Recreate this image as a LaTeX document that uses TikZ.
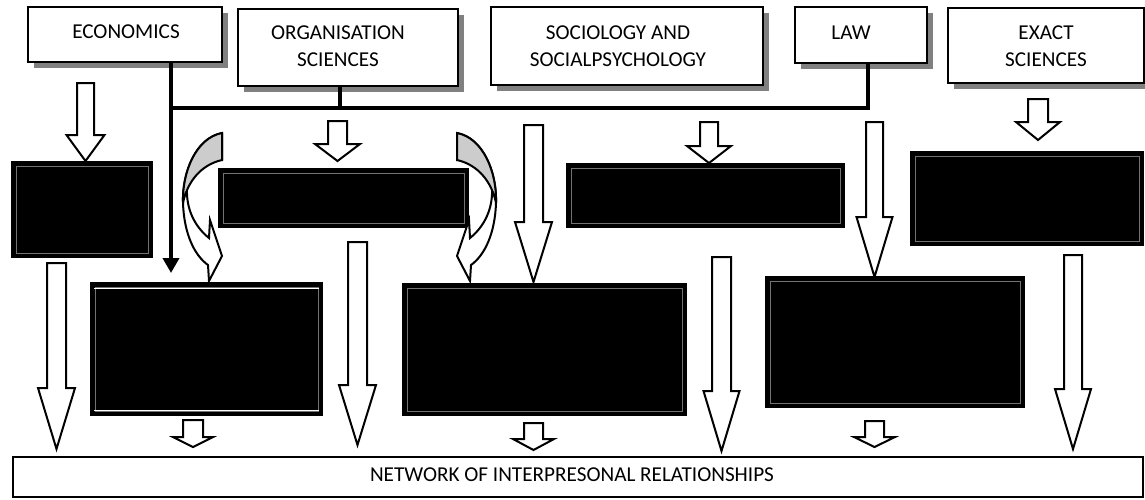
\documentclass[tikz,border=0pt]{standalone}
\usepackage{fontspec}
\setmainfont{Carlito}
\usetikzlibrary{arrows.meta,shadows}

% rectangle node given by its corners (x1,y1) and (x2,y2)
\newcommand\rectnode[6]{%
  \node[#1, minimum width={(#5-#3)*0.5pt}, minimum height={(#6-#4)*0.5pt}]
    (#2) at ({(#3+#5)/2},{(#4+#6)/2}) {};}

% hollow block arrow: centre x, shaft top, head start, tip, shaft half width, head half width
\newcommand\blockarrow[6]{%
  \draw[hollow arrow] ({#1-#5},#2) -- ({#1+#5},#2) -- ({#1+#5},#3) -- ({#1+#6},#3)
    -- (#1,#4) -- ({#1-#6},#3) -- ({#1-#5},#3) -- cycle;}

% curved band arrow, drawn from the top of its cut end
\newcommand\bendarrow{%
  \path[bend front] (0,0) .. controls (-26,5) and (-40,39) .. (-39,70)
    .. controls (-38,100) and (-28,122) .. (-14,132) -- (-13,148) -- (0,123)
    -- (-12,87) -- (-13,105) .. controls (-28,93) and (-36,75) .. (-35,55)
    .. controls (-34,38) and (-20,24) .. (0,27) -- cycle;
  \path[bend back] (0,0) .. controls (-26,5) and (-40,39) .. (-39,70)
    .. controls (-35,50) and (-22,32) .. (0,27) -- cycle;}

\tikzset{
  topbox/.style={draw, line width=1.3pt, fill=white, inner sep=0pt, outer sep=0pt,
    drop shadow={shadow xshift=3pt, shadow yshift=-3pt, fill=black!50, opacity=1}},
  toptext/.style={inner sep=0pt, align=center, font=\fontsize{10.6}{13.5}\selectfont},
  darkbox/.style={draw, line width=1.4pt, fill=black, inner sep=0pt, outer sep=0pt,
    path picture={\draw[black!55, line width=0.5pt]
      ([shift={(2pt,2pt)}]path picture bounding box.south west) rectangle
      ([shift={(-2pt,-2pt)}]path picture bounding box.north east);}},
  netbox/.style={draw, line width=1.2pt, fill=white, inner sep=0pt, outer sep=0pt},
  hollow arrow/.style={draw, fill=white, line width=1pt, line join=miter, miter limit=20},
  trunk/.style={line width=1.8pt},
  bend front/.style={draw, fill=white, line width=1pt, line join=miter},
  bend back/.style={draw, fill=black!20, line width=1pt, line join=round},
}

\begin{document}
\begin{tikzpicture}[x=0.5pt, y=-0.5pt]
\useasboundingbox (0,0) rectangle (1145,499);
\fill[white] (0,0) rectangle (1145,499);

% disciplines
\rectnode{topbox}{eco}{28}{7}{222}{62}
\rectnode{topbox}{org}{238}{9}{458}{86}
\rectnode{topbox}{soc}{491}{7}{763}{85}
\rectnode{topbox}{law}{795}{7}{927}{63}
\rectnode{topbox}{exa}{948}{8}{1144}{83}

\node[toptext] (ecot) at (126,32) {ECONOMICS};
\node[toptext] (orgt) at (338,46.5) {ORGANISATION\\SCIENCES};
\node[toptext] (soct) at (618,46.5) {SOCIOLOGY AND\\SOCIALPSYCHOLOGY};
\node[toptext] (lawt) at (851,33) {LAW};
\node[toptext] (exat) at (1046,46.5) {EXACT\\SCIENCES};

% dark blocks
\rectnode{darkbox}{ba}{12}{162}{152}{257}
\rectnode{darkbox}{bb}{219}{169}{468}{227}
\rectnode{darkbox}{bc}{567}{164}{844}{227}
\rectnode{darkbox}{bd}{911}{152}{1143}{245}
\rectnode{darkbox}{be}{91}{283}{322}{415}
\rectnode{darkbox}{bf}{403}{284}{686}{415}
\rectnode{darkbox}{bg}{766}{277}{1024}{407}
\draw[white, line width=0.7pt] ([shift={(1.5pt,-2.6pt)}]be.north west) -- ([shift={(-1.5pt,-2.6pt)}]be.north east);
\draw[white, line width=0.7pt] ([shift={(1.5pt,2.2pt)}]be.south west) -- ([shift={(-1.5pt,2.2pt)}]be.south east);

% common ground
\rectnode{netbox}{net}{13}{457}{1143}{497}
\node[toptext] (nett) at (572,475) {NETWORK OF INTERPRESONAL RELATIONSHIPS};

% joining lines
\coordinate (jl) at (171,108);
\coordinate (jo) at (340,108);
\coordinate (jr) at (868,108);
\coordinate (etip) at (171,273);
\draw[trunk, -{Triangle[width=8pt,length=7.5pt]}] (eco.south -| jl) -- (etip);
\draw[trunk, line join=miter] (law.south -| jr) -- (jr) -- (jl);
\draw[trunk] (org.south -| jo) -- (jo);

% short arrows
\blockarrow{85.5}{83}{135}{161}{8.5}{19}
\blockarrow{337.5}{121}{144}{161}{9.5}{22.5}
\blockarrow{709}{122}{146}{163}{9}{22}
\blockarrow{1038}{99}{122}{140}{10}{22}
\blockarrow{193}{420}{437}{447}{10}{20}
\blockarrow{533.5}{423}{439}{450}{9.5}{20.5}
\blockarrow{874.5}{421}{437}{447}{9.5}{20.5}

% long arrows
\blockarrow{56.5}{263}{388}{449}{9.5}{18.5}
\blockarrow{357.5}{242}{385}{445}{9.5}{18.5}
\blockarrow{533.5}{125}{222}{282}{9.5}{18.5}
\blockarrow{721.5}{257}{391}{451}{9.5}{18}
\blockarrow{874.5}{122}{217}{277}{8.5}{18}
\blockarrow{1073}{255}{389}{449}{9}{18}

% curved arrows
\begin{scope}[shift={(222,133)}]
  \bendarrow
\end{scope}
\begin{scope}[shift={(457,133)}, xscale=-1]
  \bendarrow
\end{scope}
\end{tikzpicture}
\end{document}
